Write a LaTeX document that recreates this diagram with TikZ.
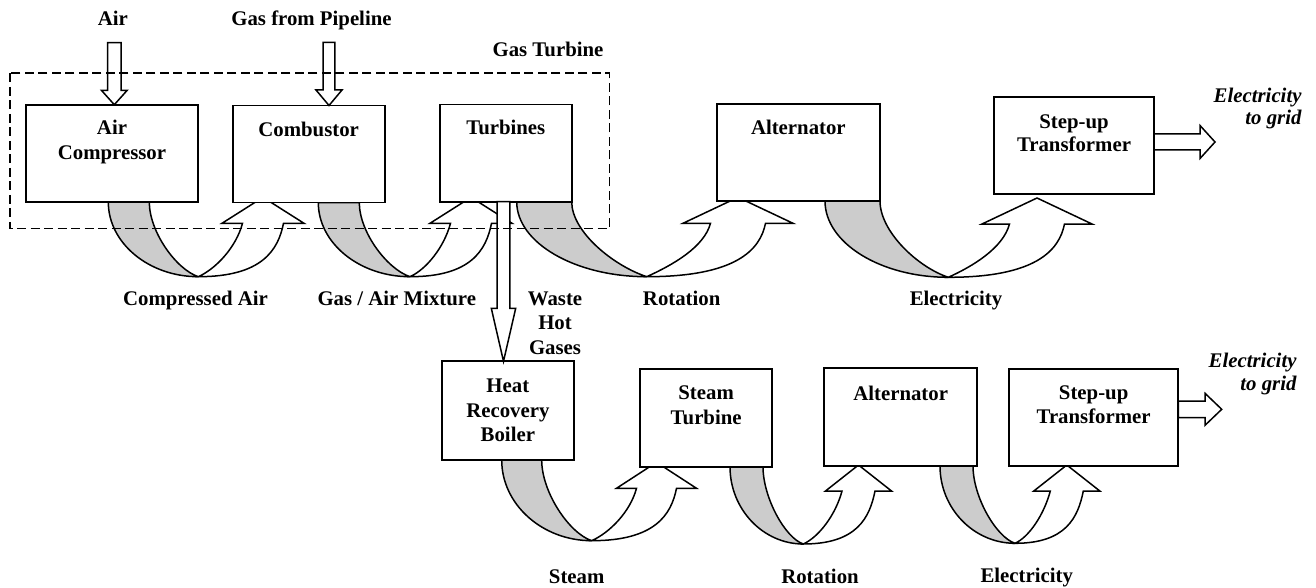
\documentclass[tikz,border=0pt]{standalone}
\usepackage{fontspec}
\setmainfont{Liberation Serif}
\usetikzlibrary{calc}
\definecolor{bandgray}{RGB}{204,204,204}
\tikzset{
  box/.style={draw=black, fill=white, line width=1.9pt, inner sep=0pt, outer sep=0pt},
  lbl/.style={font=\bfseries\fontsize{20.8pt}{25pt}\selectfont, inner sep=0pt, align=center},
  ilbl/.style={font=\bfseries\itshape\fontsize{20.8pt}{22pt}\selectfont, inner sep=0pt, align=right},
  band/.style={fill=bandgray, draw=black, line width=1.5pt, line join=round},
  front/.style={fill=white, draw=black, line width=1.5pt, line join=miter},
  barrow/.style={fill=white, draw=black, line width=1.5pt, line join=miter},
  gtframe/.style={draw=black, line width=1.7pt, dash pattern=on 9pt off 4.5pt},
}
% #1 L, #2 band width, #3 top, #4 bottom, #5 crossing x, #6 head centre x, #7 head base y
\newcommand\uturn[7]{%
  \pgfmathsetmacro\uIn{#1+#2}%
  \pgfmathsetmacro\uH{#4-#3}%
  \pgfmathsetmacro\uRi{#6-#2/2}%
  \pgfmathsetmacro\uRo{#6+#2/2}%
  \pgfmathsetmacro\ubL{#6-#2}%
  \pgfmathsetmacro\ubR{#6+#2}%
  \pgfmathsetmacro\uD{#4-#7}%
  \pgfmathsetmacro\uG{#5-\uIn}%
  \pgfmathsetmacro\uK{\uRi-#5}%
  \draw[band] (#1,#3) .. controls (#1,{#3+0.55*\uH}) and ({#5-0.55*(#5-#1)},#4) .. (#5,#4)
     .. controls ({#5-0.45*\uG},{#4-0.15*\uG}) and (\uIn,{#3+0.4*\uH}) .. (\uIn,#3) -- cycle;
  \draw[front] (#5,#4) .. controls ({#5+0.75*(\uRo-#5)},#4) and ({\uRo-0.1*\uD},{#7+0.5*\uD}) .. (\uRo,#7)
     -- (\ubR,#7) -- (#6,{#7-26}) -- (\ubL,#7) -- (\uRi,#7)
     .. controls ({\uRi-0.12*\uD},{#7+0.45*\uD}) and ({#5+0.4*\uK},{#4-0.18*\uK}) .. (#5,#4) -- cycle;
}
\begin{document}
\begin{tikzpicture}[x=1pt,y=-1pt]
\useasboundingbox (0,0) rectangle (1316,588);

% curved arrows
\uturn{108.3}{41}{202}{276.7}{198.3}{263}{223.3}
\uturn{318.3}{41}{202.5}{276.7}{410}{471}{223.3}
\uturn{516.7}{55}{201.7}{276.7}{646.7}{738}{223.3}
\uturn{825}{55}{201}{277.3}{948.3}{1037}{224}
\uturn{501.7}{40}{460}{540.7}{591.7}{656.5}{488.3}
\uturn{730}{33}{466.7}{544}{803.3}{858.5}{491}
\uturn{940}{33}{466}{543.3}{1015}{1066.8}{491}

% boxes
\node[box, minimum width=172.6pt, minimum height=97.3pt] (ac) at (112,153.35) {};
\node[box, minimum width=152pt, minimum height=97pt] (comb) at (308.7,154) {};
\node[box, minimum width=131.6pt, minimum height=97.2pt] (turb) at (505.8,153.1) {};
\node[box, minimum width=163.3pt, minimum height=96.7pt] (alt1) at (798.35,152.65) {};
\node[box, minimum width=160pt, minimum height=96.7pt] (step1) at (1074,145.65) {};
\node[box, minimum width=132.3pt, minimum height=98.7pt] (hrb) at (507.85,410.65) {};
\node[box, minimum width=132.3pt, minimum height=97.7pt] (st) at (706.15,417.85) {};
\node[box, minimum width=153.3pt, minimum height=97.7pt] (alt2) at (900.65,417.15) {};
\node[box, minimum width=169.3pt, minimum height=97pt] (step2) at (1093.65,417.5) {};

% block arrows
\coordinate (airtip) at ($(ac.north)+(2.3,0)$);
\draw[barrow] (airtip) -- ++(-12.8,-14.3) -- ++(6.1,0) -- ++(0,-47.7) -- ++(13.4,0) -- ++(0,47.7) -- ++(6.1,0) -- cycle;
\coordinate (gastip) at ($(comb.north)+(20.3,0)$);
\draw[barrow] (gastip) -- ++(-13,-15.5) -- ++(7.1,0) -- ++(0,-47.7) -- ++(11.8,0) -- ++(0,47.7) -- ++(7.1,0) -- cycle;
\coordinate (hgtip) at ($(hrb.north)+(-4.35,0)$);
\draw[barrow] (hgtip) -- ++(-12.2,-53) -- ++(5.9,0) -- ++(0,-106.6) -- ++(12.6,0) -- ++(0,106.6) -- ++(5.9,0) -- cycle;
\coordinate (out1) at ($(step1.east)+(0,-3.65)$);
\draw[barrow] ($(out1)+(0,-8)$) -- ++(46,0) -- ++(0,-8.5) -- ++(15,16.5) -- ++(-15,16.5) -- ++(0,-8.5) -- ++(-46,0) -- cycle;
\coordinate (out2) at ($(step2.east)+(0,-8.2)$);
\draw[barrow] ($(out2)+(0,-8.3)$) -- ++(26.7,0) -- ++(0,-7.7) -- ++(16.7,16) -- ++(-16.7,16) -- ++(0,-7.7) -- ++(-26.7,0) -- cycle;

% gas turbine frame
\draw[gtframe] (10.3,73.3) rectangle (609.4,228.5);

% box texts (anchor=base is the last line's baseline)
\node[lbl, anchor=base, font=\bfseries\fontsize{20.8pt}{25.7pt}\selectfont] (actx) at ($(ac.north)+(0,55.3)$) {Air\\Compressor};
\node[lbl, anchor=base] (combtx) at ($(comb.north)+(0,31.2)$) {Combustor};
\node[lbl, anchor=base] (turbtx) at ($(turb.north)+(0,29.8)$) {Turbines};
\node[lbl, anchor=base] (alt1tx) at ($(alt1.north)+(0,30.7)$) {Alternator};
\node[lbl, anchor=base, font=\bfseries\fontsize{20.8pt}{23.5pt}\selectfont] (step1tx) at ($(step1.north)+(0,54.7)$) {Step-up\\Transformer};
\node[lbl, anchor=base, font=\bfseries\fontsize{20.8pt}{24.5pt}\selectfont] (hrbtx) at ($(hrb.north)+(0,80.4)$) {Heat\\Recovery\\Boiler};
\node[lbl, anchor=base, font=\bfseries\fontsize{20.8pt}{24.7pt}\selectfont] (sttx) at ($(st.north)+(0,55)$) {Steam\\Turbine};
\node[lbl, anchor=base] (alt2tx) at ($(alt2.north)+(0,31.7)$) {Alternator};
\node[lbl, anchor=base, font=\bfseries\fontsize{20.8pt}{24.3pt}\selectfont] (step2tx) at ($(step2.north)+(0,54.3)$) {Step-up\\Transformer};

% other labels
\node[lbl, anchor=base] (airlbl) at (112.8,26) {Air};
\node[lbl, anchor=base] (gaslbl) at (311.5,26) {Gas from Pipeline};
\node[lbl, anchor=base] (gtlbl) at (548,56.7) {Gas Turbine};
\node[lbl, anchor=base] (calbl) at (195.5,305) {Compressed Air};
\node[lbl, anchor=base] (gamlbl) at (396.8,305) {Gas / Air Mixture};
\node[lbl, anchor=base, font=\bfseries\fontsize{20.8pt}{24.5pt}\selectfont] (wlbl) at (555,354) {Waste\\Hot\\Gases};
\node[lbl, anchor=base] (rot1) at (681.7,305) {Rotation};
\node[lbl, anchor=base] (el1) at (956,305) {Electricity};
\node[ilbl, anchor=base east] (grid1) at (1301.7,125) {Electricity\\to grid};
\node[lbl, anchor=base] (steamlbl) at (576.7,583.3) {Steam};
\node[lbl, anchor=base] (rot2) at (820,583.3) {Rotation};
\node[lbl, anchor=base] (el2) at (1026.7,582) {Electricity};
\node[ilbl, anchor=base east, font=\bfseries\itshape\fontsize{20.8pt}{23.4pt}\selectfont] (grid2) at (1296.7,390.7) {Electricity\\to grid};
\end{tikzpicture}
\end{document}
